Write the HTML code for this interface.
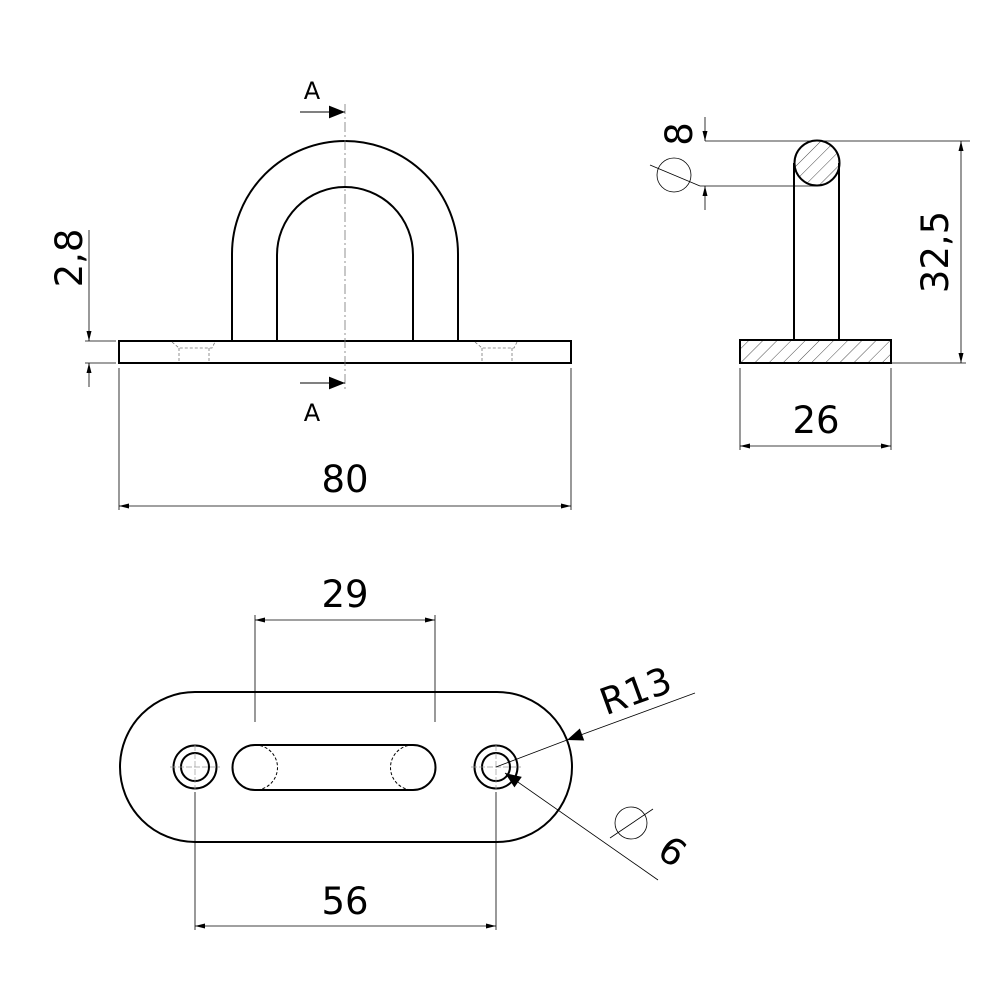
<!DOCTYPE html>
<html><head><meta charset="utf-8"><style>html,body{margin:0;padding:0;background:#fff}svg{display:block}</style></head><body>
<svg width="1000" height="1000" viewBox="0 0 1000 1000" xmlns="http://www.w3.org/2000/svg" font-family="'DejaVu Sans','Liberation Sans',sans-serif">
<defs>
<marker id="ar" viewBox="0 0 10 10" refX="10" refY="5" markerWidth="10" markerHeight="10" markerUnits="userSpaceOnUse" orient="auto-start-reverse"><path d="M0,2.5 L10,5 L0,7.5 z" fill="#000"/></marker>
<marker id="arb" viewBox="0 0 10 10" refX="10" refY="5" markerWidth="22" markerHeight="16" markerUnits="userSpaceOnUse" orient="auto"><path d="M0,1 L10,5 L0,9 z" fill="#000"/></marker>
<pattern id="h" width="10" height="10" patternUnits="userSpaceOnUse" patternTransform="rotate(45)"><line x1="0" y1="0" x2="0" y2="10" stroke="#000" stroke-width="0.7"/></pattern>
</defs>
<g fill="none" stroke="#000">
<path d="M232,341 V254 A113,113 0 0 1 458,254 V341" stroke-width="2"/>
<path d="M277,341 V255 A68,68 0 0 1 413,255 V341" stroke-width="2"/>
<rect x="119" y="341" width="452" height="22" stroke-width="2"/>
<g stroke="#777" stroke-width="0.8" stroke-dasharray="3,2">
<path d="M172,342 L179,348 H212 L215,342 M179,348 V363 M209,348 V363"/>
<path d="M475,342 L482,348 H514 L517,342 M482,348 V363 M512,348 V363"/>
</g>
<line x1="345" y1="104" x2="345" y2="392" stroke="#777" stroke-width="0.8" stroke-dasharray="10,3,2,3"/>
<line x1="300" y1="112" x2="345" y2="112" stroke-width="1" marker-end="url(#arb)"/>
<line x1="300" y1="383" x2="345" y2="383" stroke-width="1" marker-end="url(#arb)"/>
<g stroke-width="0.8">
<line x1="89" y1="230" x2="89" y2="341" marker-end="url(#ar)"/>
<line x1="89" y1="387" x2="89" y2="363" marker-end="url(#ar)"/>
<line x1="85" y1="341" x2="116" y2="341"/><line x1="85" y1="363" x2="116" y2="363"/>
<line x1="119" y1="368" x2="119" y2="510"/><line x1="571" y1="368" x2="571" y2="510"/>
<line x1="119" y1="506" x2="571" y2="506" marker-start="url(#ar)" marker-end="url(#ar)"/>
</g>
<path d="M794,163 V340 M839,163 V340" stroke-width="2"/>
<circle cx="817" cy="163" r="22.5" fill="url(#h)" stroke-width="2"/>
<rect x="740" y="340" width="151" height="23" fill="url(#h)" stroke-width="2"/>
<g stroke-width="0.8">
<line x1="705" y1="141" x2="970" y2="141"/>
<line x1="700" y1="186" x2="817" y2="186"/>
<line x1="705" y1="117" x2="705" y2="141" marker-end="url(#ar)"/>
<line x1="705" y1="210" x2="705" y2="186" marker-end="url(#ar)"/>
<circle cx="674" cy="175" r="17"/><line x1="650" y1="165" x2="700" y2="186"/>
<line x1="961" y1="141" x2="961" y2="363" marker-start="url(#ar)" marker-end="url(#ar)"/>
<line x1="891" y1="363" x2="966" y2="363"/>
<line x1="740" y1="368" x2="740" y2="450"/><line x1="891" y1="368" x2="891" y2="450"/>
<line x1="740" y1="446" x2="891" y2="446" marker-start="url(#ar)" marker-end="url(#ar)"/>
</g>
<path d="M195,692 H497 A75,75 0 0 1 497,842 H195 A75,75 0 0 1 195,692 Z" stroke-width="2"/>
<circle cx="195" cy="767" r="21.5" stroke-width="2"/><circle cx="195" cy="767" r="14" stroke-width="2"/>
<circle cx="496" cy="767" r="21.5" stroke-width="2"/><circle cx="496" cy="767" r="14" stroke-width="2"/>
<path d="M255,745 H413 A22.5,22.5 0 0 1 413,790 H255 A22.5,22.5 0 0 1 255,745 Z" stroke-width="2"/>
<path d="M255,745 A22.5,22.5 0 0 1 255,790 M413,745 A22.5,22.5 0 0 0 413,790" stroke-width="1" stroke-dasharray="3,2"/>
<g stroke="#999" stroke-width="0.7" stroke-dasharray="6,2"><path d="M170,767 H220 M195,745 V790 M471,767 H521 M496,745 V790"/></g>
<g stroke-width="0.8">
<line x1="255" y1="615" x2="255" y2="722"/><line x1="435" y1="615" x2="435" y2="722"/>
<line x1="255" y1="620" x2="435" y2="620" marker-start="url(#ar)" marker-end="url(#ar)"/>
<line x1="195" y1="792" x2="195" y2="930"/><line x1="496" y1="792" x2="496" y2="930"/>
<line x1="195" y1="926" x2="496" y2="926" marker-start="url(#ar)" marker-end="url(#ar)"/>
<line x1="695" y1="693" x2="567" y2="740" marker-end="url(#arb)"/>
<line x1="567" y1="740" x2="496" y2="767"/>
<line x1="658" y1="880" x2="505" y2="773" marker-end="url(#arb)"/>
<circle cx="631" cy="823" r="16"/><line x1="610" y1="838" x2="653" y2="809"/>
</g>
</g>
<g fill="#000" text-anchor="middle">
<text x="312" y="99" font-size="24">A</text>
<text x="312" y="421" font-size="24">A</text>
<text x="345" y="492" font-size="37">80</text>
<text transform="translate(82,258) rotate(-90)" font-size="37">2,8</text>
<text transform="translate(692,134) rotate(-90)" font-size="37">8</text>
<text transform="translate(948,252) rotate(-90)" font-size="37">32,5</text>
<text x="816" y="433" font-size="37">26</text>
<text x="345" y="607" font-size="37">29</text>
<text x="345" y="914" font-size="37">56</text>
<text transform="translate(640,703) rotate(-20)" font-size="37">R13</text>
<text transform="translate(665,862) rotate(35)" font-size="37">6</text>
</g>
</svg>
</body></html>
